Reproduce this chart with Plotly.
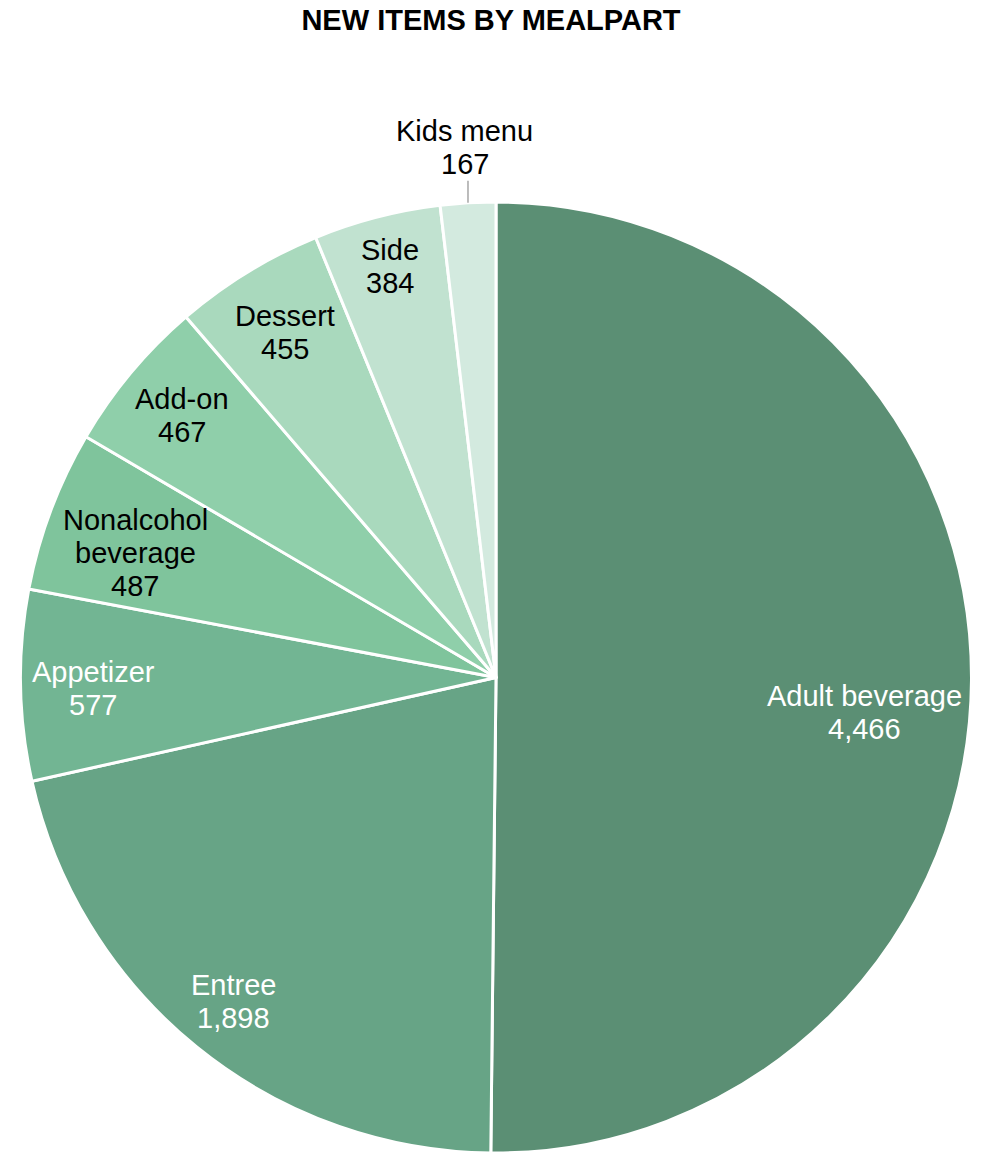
import math
import plotly.graph_objects as go

categories = ["Adult beverage", "Entree", "Appetizer", "Nonalcohol<br>beverage",
              "Add-on", "Dessert", "Side", "Kids menu"]
values = [4466, 1898, 577, 487, 467, 455, 384, 167]

colors = ["#5b8f74", "#67a486", "#72b593", "#7fc49c", "#8fcfaa", "#a9d9bd", "#c1e2d0", "#d3eadf"]
text_colors = ["white", "white", "white", "black", "black", "black", "black", "black"]
label_r = [0.775, 0.877, 0.847, 0.81, 0.861, 0.851, 0.893, 1.117]
label_dy = [33, 0, 4, 11, 0, 0, 0, 0]
LINE_H = 33

W, H = 982, 1153
ML, MR, MT, MB = 20, 10, 202, 0
pw, ph = W - ML - MR, H - MT - MB
R = min(pw, ph) / 2.0
cx, cy = ML + pw / 2.0, MT + ph / 2.0

fig = go.Figure(go.Pie(
    labels=[c.replace("<br>", " ") for c in categories], values=values, sort=False,
    direction="clockwise", rotation=0,
    marker=dict(colors=colors, line=dict(color="white", width=3)),
    textinfo="none", hoverinfo="label+value", showlegend=False,
))

def to_paper(px, py):
    return (px - ML) / pw, 1 - (py - MT) / ph

total = sum(values)
cum = 0
annotations = []
shapes = []
FONT = "Liberation Sans, Arial, sans-serif"
for i, (lab, v) in enumerate(zip(categories, values)):
    mid = (cum + v / 2.0) / total
    cum += v
    ang = 2 * math.pi * mid
    sx, sy = math.sin(ang), -math.cos(ang)
    r = label_r[i] * R
    px = cx + r * sx
    py = cy + r * sy + label_dy[i]
    lines = lab.split("<br>") + [f"{v:,}"]
    n = len(lines)
    for k, t in enumerate(lines):
        ly = py + (k - (n - 1) / 2.0) * LINE_H
        ax, ay = to_paper(px, ly)
        annotations.append(dict(
            x=ax, y=ay, xref="paper", yref="paper", text=t, showarrow=False,
            xanchor="center", yanchor="middle",
            font=dict(family=FONT, size=29, color=text_colors[i]),
        ))
    if label_r[i] > 1:
        ex, ey = cx + R * sx, cy + R * sy
        x0, y0 = to_paper(ex, ey)
        x1, y1 = to_paper(ex, ey - 22)
        shapes.append(dict(type="line", xref="paper", yref="paper",
                           x0=x0, y0=y0, x1=x1, y1=y1,
                           line=dict(color="#a6a6a6", width=1.5)))

fig.update_layout(
    width=W, height=H, margin=dict(l=ML, r=MR, t=MT, b=MB),
    paper_bgcolor="white", plot_bgcolor="white",
    title=dict(text="<b>NEW ITEMS BY MEALPART</b>", x=0.5, xanchor="center",
               y=1 - 20 / H, yanchor="middle",
               font=dict(family=FONT, size=29, color="black")),
    annotations=annotations, shapes=shapes,
)
fig.write_html("out.html")
